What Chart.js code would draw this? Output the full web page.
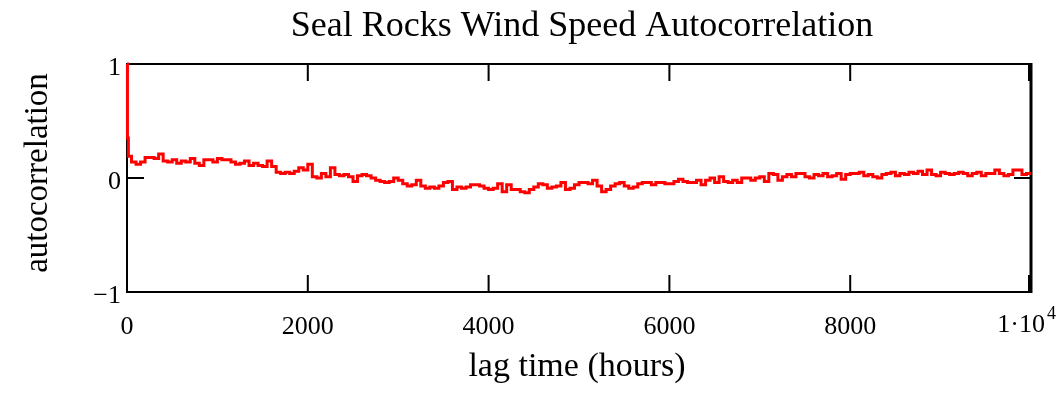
<!DOCTYPE html>
<html>
<head>
<meta charset="utf-8">
<script src="https://cdn.jsdelivr.net/npm/chart.js@4.4.1/dist/chart.umd.min.js"></script>
<style>
  html, body { margin: 0; padding: 0; background: #ffffff; }
  #wrap { width: 1060px; height: 407px; }
</style>
</head>
<body>
<div id="wrap"><canvas id="c" width="1060" height="407"></canvas></div>
<script>
// ---- data ----
const titleText = 'Seal Rocks Wind Speed Autocorrelation';
const xTitle = 'lag time (hours)';
const yTitle = 'autocorrelation';
const xTicks = [0, 2000, 4000, 6000, 8000, 10000];
const yTicks = [-1, 0, 1];
const headLags = [0, 5, 15];
const headValues = [1.0, 0.35, 0.19];
const lagStep = 50;
const bodyValues = [
  0.14,0.12,0.14,0.18,0.18,0.17,0.21,0.15,0.14,0.16,
  0.13,0.15,0.14,0.17,0.13,0.11,0.16,0.16,0.14,0.17,
  0.16,0.16,0.14,0.12,0.13,0.15,0.11,0.13,0.11,0.10,
  0.15,0.10,0.05,0.04,0.05,0.04,0.06,0.09,0.07,0.12,
  0.01,0.00,0.04,0.01,0.09,0.03,0.02,0.03,0.01,-0.03,
  0.02,0.03,0.02,0.00,-0.02,-0.03,-0.04,-0.03,0.00,-0.02,
  -0.05,-0.07,-0.06,-0.02,-0.07,-0.09,-0.08,-0.09,-0.07,-0.04,
  -0.03,-0.10,-0.08,-0.09,-0.08,-0.06,-0.06,-0.07,-0.09,-0.10,
  -0.09,-0.05,-0.12,-0.06,-0.10,-0.10,-0.12,-0.13,-0.10,-0.08,
  -0.05,-0.06,-0.09,-0.08,-0.07,-0.04,-0.10,-0.09,-0.06,-0.04,
  -0.04,-0.05,-0.02,-0.07,-0.12,-0.10,-0.07,-0.05,-0.04,-0.07,
  -0.09,-0.08,-0.05,-0.04,-0.04,-0.06,-0.04,-0.04,-0.05,-0.05,
  -0.03,-0.01,-0.03,-0.04,-0.04,-0.02,-0.06,-0.02,0.00,-0.04,
  0.01,-0.03,-0.04,-0.02,-0.04,0.00,0.00,-0.02,0.00,0.01,
  -0.03,0.04,0.03,-0.02,0.01,0.03,0.01,0.04,0.04,0.01,
  0.00,0.03,0.02,0.04,0.01,0.02,0.04,-0.01,0.03,0.04,
  0.04,0.05,0.02,0.03,0.01,0.00,0.03,0.04,0.05,0.02,
  0.04,0.03,0.05,0.04,0.06,0.03,0.07,0.03,0.02,0.05,
  0.04,0.03,0.04,0.05,0.04,0.02,0.04,0.05,0.02,0.04,
  0.04,0.07,0.04,0.02,0.03,0.07,0.07,0.03,0.04,0.04
];

const points = headLags.map((l, i) => ({ x: l, y: headValues[i] }))
  .concat(bodyValues.map((v, i) => ({ x: (i + 1) * lagStep, y: v })));

const SERIF = "'Liberation Serif', 'Times New Roman', serif";
const TICK_LEN = 17;

const framePlugin = {
  id: 'frame',
  beforeDatasetsDraw(chart) {
    const { ctx, chartArea: a, scales } = chart;
    ctx.save();
    ctx.strokeStyle = '#000';
    ctx.lineWidth = 2;
    ctx.beginPath();
    ctx.moveTo(a.left, a.top); ctx.lineTo(a.right, a.top);
    ctx.moveTo(a.left, a.bottom); ctx.lineTo(a.right, a.bottom);
    ctx.moveTo(a.left, a.top - 1); ctx.lineTo(a.left, a.bottom + 1);
    xTicks.forEach(v => {
      const px = Math.min(scales.x.getPixelForValue(v), a.right - 2);
      ctx.moveTo(px, a.bottom); ctx.lineTo(px, a.bottom - TICK_LEN);
      ctx.moveTo(px, a.top); ctx.lineTo(px, a.top + TICK_LEN);
    });
    yTicks.forEach(v => {
      const py = scales.y.getPixelForValue(v);
      ctx.moveTo(a.left, py); ctx.lineTo(a.left + TICK_LEN, py);
      ctx.moveTo(a.right, py); ctx.lineTo(a.right - TICK_LEN, py);
    });
    ctx.stroke();
    ctx.lineWidth = 3;
    ctx.beginPath();
    ctx.moveTo(a.right, a.top - 1); ctx.lineTo(a.right, a.bottom + 1);
    ctx.stroke();
    ctx.restore();
  },
  afterDraw(chart) {
    const { ctx, chartArea: a, scales } = chart;
    ctx.save();
    ctx.fillStyle = '#000';
    // title
    ctx.font = '36px ' + SERIF;
    ctx.textAlign = 'center';
    ctx.textBaseline = 'middle';
    ctx.fillText(titleText, (a.left + a.right) / 2 + 3, 27);
    // x axis title
    ctx.font = '34px ' + SERIF;
    ctx.fillText(xTitle, (a.left + a.right) / 2 - 2, 367);
    // y axis title
    ctx.save();
    ctx.translate(38, (a.top + a.bottom) / 2 - 5);
    ctx.rotate(-Math.PI / 2);
    ctx.font = '33px ' + SERIF;
    ctx.fillText(yTitle, 0, 0);
    ctx.restore();
    // last x tick label with superscript
    const px = scales.x.getPixelForValue(10000);
    ctx.font = '26px ' + SERIF;
    ctx.textAlign = 'right';
    ctx.textBaseline = 'top';
    ctx.fillText('1\u00B710', px + 14, a.bottom + 20);
    ctx.font = '18px ' + SERIF;
    ctx.textAlign = 'left';
    ctx.fillText('4', px + 16, a.bottom + 13);
    ctx.restore();
  }
};

new Chart(document.getElementById('c'), {
  type: 'scatter',
  data: {
    datasets: [{
      data: points,
      showLine: true,
      stepped: 'before',
      borderColor: '#ff0000',
      backgroundColor: '#ff0000',
      borderWidth: 3,
      pointRadius: 0,
      clip: 4
    }]
  },
  options: {
    responsive: false,
    animation: false,
    layout: { padding: { top: 64, right: 29, bottom: 0, left: 0 } },
    plugins: { legend: { display: false }, tooltip: { enabled: false }, title: { display: false } },
    scales: {
      x: {
        type: 'linear', min: 0, max: 10000,
        afterBuildTicks(s) { s.ticks = xTicks.map(v => ({ value: v })); },
        afterFit(s) { s.height = 115; },
        grid: { display: false, drawTicks: false },
        border: { display: false },
        ticks: {
          padding: 20, color: '#000', maxRotation: 0, autoSkip: false,
          font: { family: SERIF, size: 26 },
          callback: v => (v === 10000 ? '' : String(v))
        }
      },
      y: {
        type: 'linear', min: -1, max: 1,
        afterBuildTicks(s) { s.ticks = yTicks.map(v => ({ value: v })); },
        afterFit(s) { s.width = 127; },
        grid: { display: false, drawTicks: false },
        border: { display: false },
        ticks: {
          padding: 6, color: '#000', labelOffset: 4,
          font: { family: SERIF, size: 26 },
          callback: v => (v < 0 ? '\u2212' + Math.abs(v) : String(v))
        }
      }
    }
  },
  plugins: [framePlugin]
});
</script>
</body>
</html>
